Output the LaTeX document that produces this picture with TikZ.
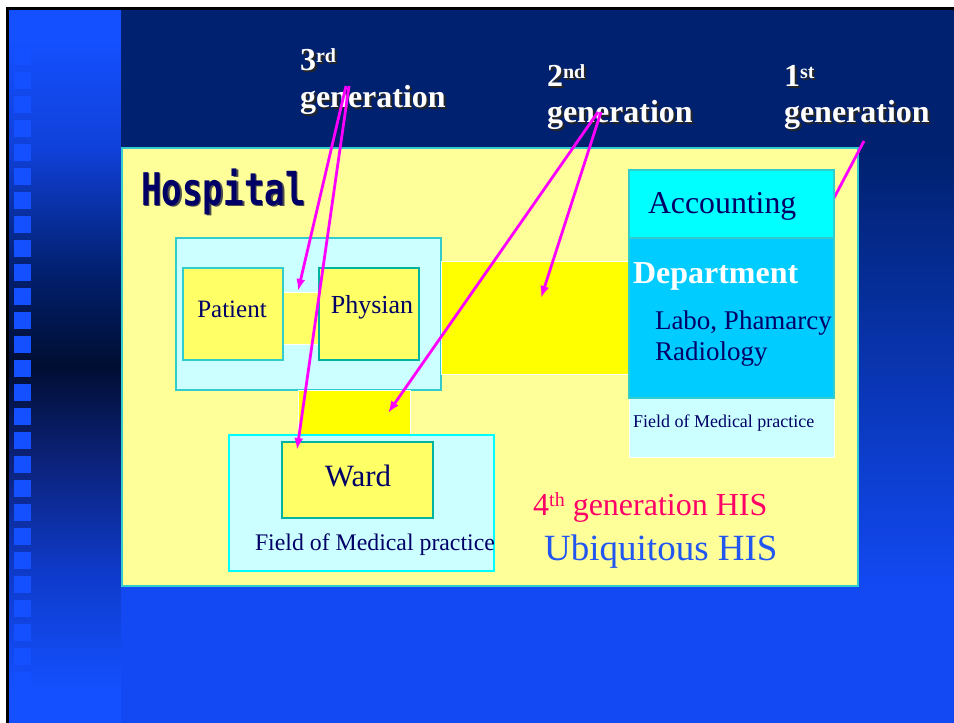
\documentclass[tikz,border=0pt]{standalone}
\usepackage{fontspec}
\usepackage{graphicx}
\setmainfont{Liberation Serif}
\newfontfamily\hospfont{DejaVu Sans Mono}
\usetikzlibrary{arrows.meta}
\definecolor{navy}{HTML}{00216F}
\definecolor{brightA}{HTML}{1450FF}
\definecolor{brightB}{HTML}{1249F3}
\definecolor{stripA}{HTML}{1040D8}
\definecolor{stripB}{HTML}{022070}
\definecolor{stripC}{HTML}{000E32}
\definecolor{stripD}{HTML}{0C2279}
\definecolor{stripE}{HTML}{0E3AC8}
\definecolor{hospyellow}{HTML}{FFFF99}
\definecolor{teal}{HTML}{33CCCC}
\definecolor{darkteal}{HTML}{00B3A0}
\definecolor{lightcyan}{HTML}{CCFFFF}
\definecolor{boxyellow}{HTML}{FFFF66}
\definecolor{pureyellow}{HTML}{FFFF00}
\definecolor{purecyan}{HTML}{00FFFF}
\definecolor{puremagenta}{HTML}{FF00FF}
\definecolor{textblue}{HTML}{000066}
\definecolor{hisred}{HTML}{FF0066}
\definecolor{hisblue}{HTML}{2256F0}
\definecolor{deptblue}{HTML}{00CCFF}
\newcommand\supx[3]{{\fontsize{#1}{#1}\selectfont\raisebox{#2}{#3}}}
\tikzset{
  box/.style={anchor=north west, inner sep=0pt, outer sep=0pt, line width=2.5pt},
  linkbox/.style={anchor=north west, inner sep=0pt, outer sep=0pt, draw=white, line width=0.8pt},
  txt/.style={inner sep=0pt, outer sep=0pt, text=textblue},
  gen/.style={inner sep=0pt, outer sep=0pt, anchor=base west, text=white, font=\fontsize{32}{34}\selectfont\bfseries},
  genshadow/.style={gen, text=black!85},
  arr/.style={draw=puremagenta, line width=2.8pt, -{Latex[length=12pt,width=9pt]}},
}
\begin{document}
\begin{tikzpicture}[x=1pt,y=-1pt]
\useasboundingbox (0,0) rectangle (954,723);
% background
\fill[white] (0,0) rectangle (954,723);
\fill[black] (6,7) rectangle (954,723);
\fill[brightA] (9,10) rectangle (121,40);
\shade[top color=brightA, bottom color=stripA] (9,40) rectangle (121,150);
\shade[top color=stripA, bottom color=stripB] (9,150) rectangle (121,270);
\shade[top color=stripB, bottom color=stripC] (9,270) rectangle (121,365);
\shade[top color=stripC, bottom color=stripD] (9,365) rectangle (121,460);
\shade[top color=stripD, bottom color=stripE] (9,460) rectangle (121,570);
\shade[top color=stripE, bottom color=brightA] (9,570) rectangle (121,690);
\fill[brightA] (9,690) rectangle (121,723);
\foreach \k in {1,...,29} {
  \fill[brightA] (14,24*\k) rectangle (31,24*\k+17);
}
\fill[navy] (121,10) rectangle (954,150);
\shade[top color=navy, bottom color=brightB] (121,150) rectangle (954,590);
\fill[brightB] (121,590) rectangle (954,723);

% hospital
\node[box, draw=teal, fill=hospyellow, minimum width=736pt, minimum height=438pt] (hospbox) at (122,148) {};
\node[inner sep=0pt, anchor=base west, text=black!70] (hosptxtshadow) at (142.5,206.5) {\hospfont\bfseries\fontsize{45}{45}\selectfont\scalebox{0.76}[1]{Hospital}};
\node[inner sep=0pt, anchor=base west, text=textblue] (hosptxt) at (141,205) {\hospfont\bfseries\fontsize{45}{45}\selectfont\scalebox{0.76}[1]{Hospital}};

% 1st generation line (behind accounting box)
\coordinate (apex1) at (864,141);
\coordinate (end1) at (834,198);
\draw[draw=puremagenta, line width=2.8pt] (apex1) -- (end1);

% patient / physian group
\node[box, draw=teal, fill=lightcyan, minimum width=265pt, minimum height=152pt] (grp1) at (176,238) {};
\node[linkbox, fill=boxyellow, minimum width=36pt, minimum height=52pt] (conn1) at (283,292) {};
\node[box, draw=teal, fill=boxyellow, minimum width=100pt, minimum height=92pt] (patient) at (183,268) {};
\node[box, draw=darkteal, fill=boxyellow, minimum width=100pt, minimum height=92pt] (physian) at (319,268) {};
\node[txt, anchor=base, font=\fontsize{25}{27}\selectfont] (patienttxt) at (232,317) {Patient};
\node[txt, anchor=base, font=\fontsize{26}{28}\selectfont] (physiantxt) at (372,313) {Physian};

% yellow links
\node[linkbox, fill=pureyellow, minimum width=189pt, minimum height=113pt] (bigconn) at (441,261) {};
\node[linkbox, fill=pureyellow, minimum width=112pt, minimum height=45pt] (smallconn) at (298,390) {};

% ward group
\node[box, draw=purecyan, fill=lightcyan, minimum width=265pt, minimum height=136pt] (grp2) at (229,435) {};
\node[box, draw=darkteal, fill=boxyellow, minimum width=151pt, minimum height=76pt] (ward) at (282,442) {};
\node[txt, anchor=base, font=\fontsize{31}{33}\selectfont] (wardtxt) at (358,486) {Ward};
\node[txt, anchor=base west, font=\fontsize{23.8}{25}\selectfont] (field2txt) at (255,550) {Field of Medical practice};

% department column
\node[linkbox, fill=lightcyan, minimum width=205pt, minimum height=59pt] (field1) at (629,398) {};
\node[box, draw=teal, fill=purecyan, minimum width=205pt, minimum height=68pt] (acc) at (629,170) {};
\node[box, draw=teal, fill=deptblue, minimum width=205pt, minimum height=160pt] (dept) at (629,238) {};
\node[txt, anchor=base west, font=\fontsize{31.8}{33}\selectfont] (acctxt) at (648,213) {Accounting};
\node[txt, anchor=base west, text=white, font=\fontsize{32}{34}\selectfont\bfseries] (depttxt) at (633,283) {Department};
\node[txt, anchor=base west, font=\fontsize{27}{29}\selectfont] (labotxt) at (655,329) {Labo, Phamarcy};
\node[txt, anchor=base west, font=\fontsize{27}{29}\selectfont] (radtxt) at (655,360) {Radiology};
\node[txt, anchor=base west, font=\fontsize{18}{20}\selectfont] (field1txt) at (633,427) {Field of Medical practice};

% 4th generation
\node[inner sep=0pt, anchor=base west, text=hisred, font=\fontsize{32}{34}\selectfont] (his4) at (533,515) {4\supx{20}{9pt}{th} generation HIS};
\node[inner sep=0pt, anchor=base west, text=hisblue, font=\fontsize{37}{39}\selectfont] (ubi) at (544,560) {Ubiquitous HIS};

% generation labels
\node[genshadow] (g3nums) at (302,72) {3\supx{20}{8pt}{rd}};
\node[gen] (g3num) at (300,70) {3\supx{20}{8pt}{rd}};
\node[genshadow] (g3txts) at (302,109) {generation};
\node[gen] (g3txt) at (300,107) {generation};
\node[genshadow] (g2nums) at (549,88) {2\supx{20}{8pt}{nd}};
\node[gen] (g2num) at (547,86) {2\supx{20}{8pt}{nd}};
\node[genshadow] (g2txts) at (549,124) {generation};
\node[gen] (g2txt) at (547,122) {generation};
\node[genshadow] (g1nums) at (786,88) {1\supx{20}{8pt}{st}};
\node[gen] (g1num) at (784,86) {1\supx{20}{8pt}{st}};
\node[genshadow] (g1txts) at (786,124) {generation};
\node[gen] (g1txt) at (784,122) {generation};

% arrows
\coordinate (apex3a) at (346,86);
\coordinate (apex3b) at (349,86);
\coordinate (tip3a) at (298,291);
\coordinate (tip3b) at (297,450);
\coordinate (apex2a) at (601,112);
\coordinate (apex2b) at (598,112);
\coordinate (tip2a) at (541,298);
\coordinate (tip2b) at (388,413);
\draw[arr] (apex3a) -- (tip3a);
\draw[arr] (apex3b) -- (tip3b);
\draw[arr] (apex2a) -- (tip2a);
\draw[arr] (apex2b) -- (tip2b);
\end{tikzpicture}
\end{document}
